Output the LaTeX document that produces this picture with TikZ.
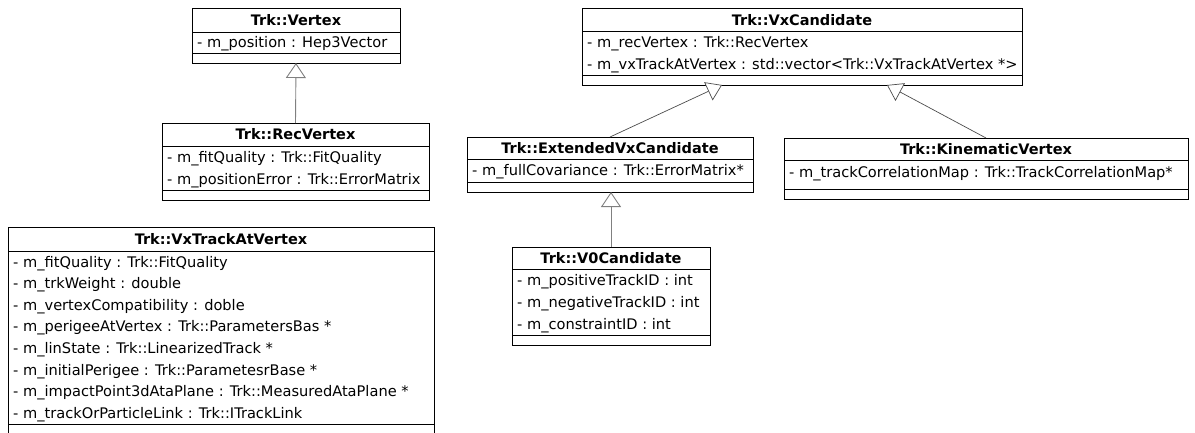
\documentclass[tikz,border=0pt]{standalone}
\usepackage{fontspec}
\setmainfont{DejaVu Sans}
\usetikzlibrary{arrows.meta}
\begin{document}
\begin{tikzpicture}[x=1pt,y=-1pt,
  classbox/.style={draw=black, line width=0.9pt, fill=white, anchor=north west,
    inner sep=0pt, outer sep=0pt},
  sepline/.style={draw=black, line width=0.9pt},
  title/.style={font=\fontsize{14.5}{16}\selectfont\bfseries, inner sep=0pt, anchor=base},
  attr/.style={font=\fontsize{14.6}{16}\selectfont, inner sep=0pt, anchor=base west},
  inherit/.style={draw=gray, line width=0.9pt,
    -{Triangle[open, length=15pt, width=20pt, fill=white]}},
  inheritthin/.style={draw=black!70, line width=0.7pt,
    -{Triangle[open, length=15pt, width=20pt, fill=white]}}
]
\useasboundingbox (0,0) rectangle (1195,432);

% ---------- Trk::Vertex ----------
\node[classbox, minimum width=208pt, minimum height=55pt] (vertex) at (192,8) {};
\draw[sepline] (192,32) -- (400,32) (192,53) -- (400,53);
\node[title] (vertex-t) at (296,25.3) {Trk::Vertex};
\node[attr] (vertex-a1) at (197,47.8) {- m\_position : Hep3Vector};

% ---------- Trk::RecVertex ----------
\node[classbox, minimum width=267pt, minimum height=77pt] (recvertex) at (162,123) {};
\draw[sepline] (162,146) -- (429,146) (162,190) -- (429,190);
\node[title] (recvertex-t) at (295.5,139.8) {Trk::RecVertex};
\node[attr] (recvertex-a1) at (167,162.3) {- m\_fitQuality : Trk::FitQuality};
\node[attr] (recvertex-a2) at (167,184.3) {- m\_positionError : Trk::ErrorMatrix};

% ---------- Trk::VxTrackAtVertex ----------
\node[classbox, minimum width=426pt, minimum height=212pt] (vxtrack) at (8,227) {};
\draw[sepline] (8,251) -- (434,251) (8,424) -- (434,424);
\node[title] (vxtrack-t) at (221,244.3) {Trk::VxTrackAtVertex};
\node[attr] (vxtrack-a1) at (13,267.1) {- m\_fitQuality : Trk::FitQuality};
\node[attr] (vxtrack-a2) at (13,288.7) {- m\_trkWeight : double};
\node[attr] (vxtrack-a3) at (13,310.3) {- m\_vertexCompatibility : doble};
\node[attr] (vxtrack-a4) at (13,331.9) {- m\_perigeeAtVertex : Trk::ParametersBas *};
\node[attr] (vxtrack-a5) at (13,353.5) {- m\_linState : Trk::LinearizedTrack *};
\node[attr] (vxtrack-a6) at (13,375.1) {- m\_initialPerigee : Trk::ParametesrBase *};
\node[attr] (vxtrack-a7) at (13,396.7) {- m\_impactPoint3dAtaPlane : Trk::MeasuredAtaPlane *};
\node[attr] (vxtrack-a8) at (13,418.3) {- m\_trackOrParticleLink : Trk::ITrackLink};

% ---------- Trk::VxCandidate ----------
\node[classbox, minimum width=440pt, minimum height=77pt] (vxcand) at (582,8) {};
\draw[sepline] (582,31.5) -- (1022,31.5) (582,75) -- (1022,75);
\node[title] (vxcand-t) at (802,25) {Trk::VxCandidate};
\node[attr] (vxcand-a1) at (587,47.7) {- m\_recVertex : Trk::RecVertex};
\node[attr] (vxcand-a2) at (587,69.4) {- m\_vxTrackAtVertex : std::vector<Trk::VxTrackAtVertex *>};

% ---------- Trk::ExtendedVxCandidate ----------
\node[classbox, minimum width=286pt, minimum height=55pt] (extended) at (467,137) {};
\draw[sepline] (467,159) -- (753,159) (467,182) -- (753,182);
\node[title] (extended-t) at (610,153.3) {Trk::ExtendedVxCandidate};
\node[attr] (extended-a1) at (472,175.8) {- m\_fullCovariance : Trk::ErrorMatrix*};

% ---------- Trk::KinematicVertex ----------
\node[classbox, minimum width=404pt, minimum height=61pt] (kinematic) at (784,138) {};
\draw[sepline] (784,160) -- (1188,160) (784,189) -- (1188,189);
\node[title] (kinematic-t) at (986,154.3) {Trk::KinematicVertex};
\node[attr] (kinematic-a1) at (789,177.3) {- m\_trackCorrelationMap : Trk::TrackCorrelationMap*};

% ---------- Trk::V0Candidate ----------
\node[classbox, minimum width=198pt, minimum height=98pt] (v0) at (512,247) {};
\draw[sepline] (512,269) -- (710,269) (512,335) -- (710,335);
\node[title] (v0-t) at (611,263.3) {Trk::V0Candidate};
\node[attr] (v0-a1) at (517,285.3) {- m\_positiveTrackID : int};
\node[attr] (v0-a2) at (517,307.3) {- m\_negativeTrackID : int};
\node[attr] (v0-a3) at (517,329.3) {- m\_constraintID : int};

% ---------- generalisations ----------
\draw[inherit] (recvertex.north) -- (vertex.south);
\draw[inheritthin] (extended.north) -- ([xshift=140pt]vxcand.south west);
\draw[inheritthin] (kinematic.north) -- ([xshift=305pt]vxcand.south west);
\draw[inherit] (v0.north) -- (v0.north |- extended.south);
\end{tikzpicture}
\end{document}
